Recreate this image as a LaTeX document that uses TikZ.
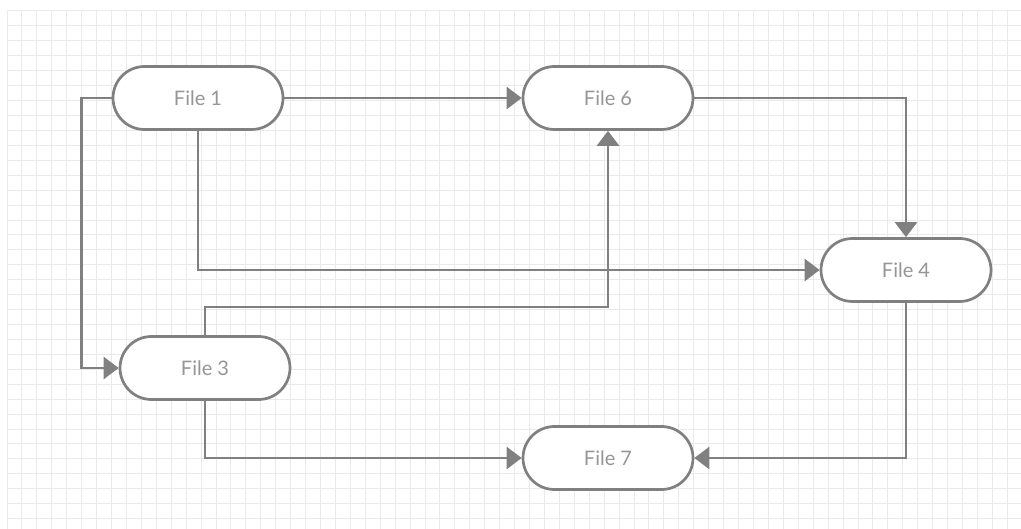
\documentclass[tikz,border=0pt]{standalone}
\usepackage{fontspec}
\setmainfont{Lato}
\usetikzlibrary{arrows.meta}
\definecolor{gridgray}{RGB}{234,234,234}
\definecolor{linegray}{RGB}{128,128,128}
\definecolor{textgray}{RGB}{150,150,150}
\tikzset{
  filebox/.style={draw=linegray, line width=2.7pt, fill=white,
    minimum width=170pt, minimum height=63pt, rounded corners=31.5pt,
    text=textgray, font=\fontsize{20}{24}\selectfont, inner sep=0pt},
  conn/.style={draw=linegray, line width=2.7pt,
    -{Triangle[length=15pt,width=22pt]}}
}
\begin{document}
\begin{tikzpicture}[x=1pt,y=-1pt]
  \useasboundingbox (0,0) rectangle (1021,529);
  \fill[white] (0,0) rectangle (1021,529);
  % background grid
  \foreach \i in {0,...,68} {
    \draw[gridgray, line width=1pt] (7+14.93*\i,11) -- (7+14.93*\i,529);
  }
  \foreach \j in {0,...,34} {
    \draw[gridgray, line width=1pt] (7,11+14.93*\j) -- (1021,11+14.93*\j);
  }
  % files
  \node[filebox] (f1) at (198,98) {File 1};
  \node[filebox] (f6) at (608,98) {File 6};
  \node[filebox] (f4) at (906,270) {File 4};
  \node[filebox] (f3) at (205,368) {File 3};
  \node[filebox] (f7) at (608,458) {File 7};
  % links
  \draw[conn] (f1.east) -- (f6.west);
  \draw[conn] (f1.west) -- ++(-30,0) |- (f3.west);
  \draw[conn] (f1.south) |- (f4.west);
  \draw[conn] (f6.east) -| (f4.north);
  \draw[conn] (f3.north) -- ++(0,-28) -| (f6.south);
  \draw[conn] (f3.south) |- (f7.west);
  \draw[conn] (f4.south) |- (f7.east);
\end{tikzpicture}
\end{document}
